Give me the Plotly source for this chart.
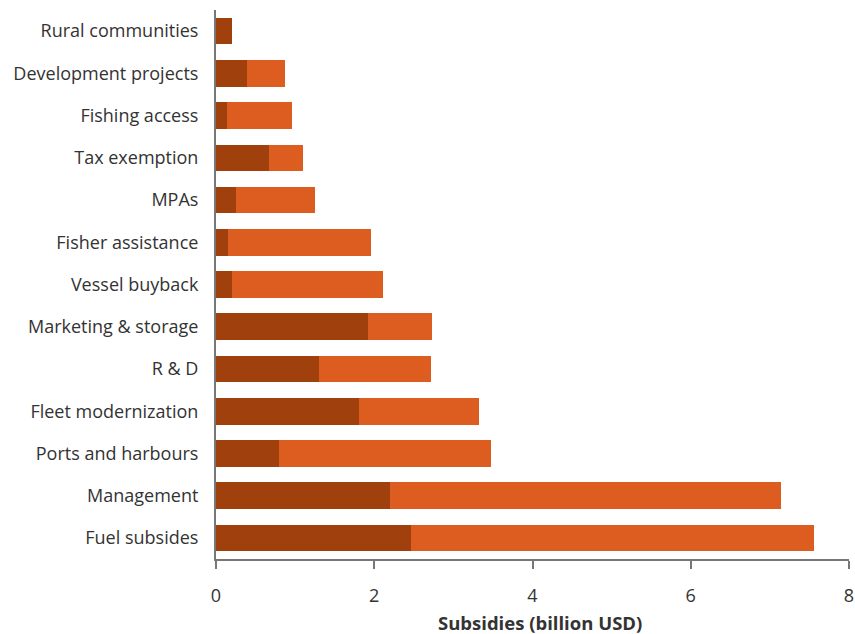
import plotly.graph_objects as go

categories = ["Rural communities", "Development projects", "Fishing access", "Tax exemption",
              "MPAs", "Fisher assistance", "Vessel buyback", "Marketing & storage", "R & D",
              "Fleet modernization", "Ports and harbours", "Management", "Fuel subsides"]
dark_values = [0.20, 0.39, 0.14, 0.67, 0.25, 0.15, 0.20, 1.92, 1.30, 1.81, 0.79, 2.20, 2.46]
total_values = [0.20, 0.87, 0.96, 1.10, 1.25, 1.96, 2.11, 2.73, 2.72, 3.32, 3.47, 7.14, 7.56]
orange_values = [round(t - d, 2) for t, d in zip(total_values, dark_values)]
x_ticks = [0, 2, 4, 6, 8]
x_title = "Subsidies (billion USD)"

fig = go.Figure()
fig.add_trace(go.Bar(y=categories, x=dark_values, orientation="h",
                     marker=dict(color="#A0400C", line=dict(width=0)), showlegend=False))
fig.add_trace(go.Bar(y=categories, x=orange_values, orientation="h",
                     marker=dict(color="#DD5C1F", line=dict(width=0)), showlegend=False))

font_family = "Open Sans, Noto Sans, sans-serif"
fig.update_layout(
    barmode="stack",
    bargap=0.37,
    width=855, height=634,
    margin=dict(l=216, r=6, t=10, b=75, autoexpand=False),
    plot_bgcolor="white", paper_bgcolor="white",
    font=dict(family=font_family, size=18, color="#333333"),
    xaxis=dict(range=[0, 8], tickvals=x_ticks, showgrid=False, zeroline=False,
               showline=True, linecolor="#777777", linewidth=2, automargin=False,
               ticks="outside", ticklen=8, tickwidth=2, tickcolor="#777777",
               ticklabelstandoff=11,
               tickfont=dict(size=18, color="#333333")),
    yaxis=dict(categoryorder="array", categoryarray=categories, autorange="reversed",
               showgrid=False, zeroline=False, showline=True, linecolor="#777777",
               linewidth=2, ticks="", ticklabelstandoff=12, automargin=False,
               tickfont=dict(size=18, color="#333333")),
    annotations=[dict(text="<b>" + x_title + "</b>", xref="paper", yref="paper",
                      x=0.512, y=-0.1148, xanchor="center", yanchor="middle",
                      showarrow=False, font=dict(size=18.5, color="#333333"))],
)

fig.write_html("out.html", config={"displayModeBar": False},
               post_script="document.body.style.margin='0';document.body.style.overflow='hidden';")
